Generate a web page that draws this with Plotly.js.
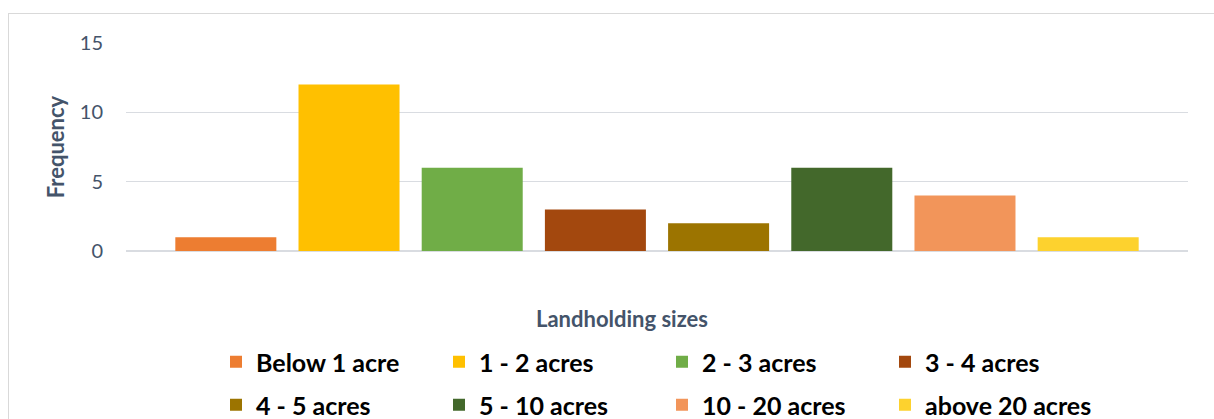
<!DOCTYPE html>
<html>
<head>
<meta charset="utf-8">
<script src="https://cdn.plot.ly/plotly-3.0.1.min.js"></script>
<style>
  html, body { margin: 0; padding: 0; background: #fff; overflow: hidden; }
  #frame { position: absolute; left: 8px; top: 13px; width: 1260px; height: 460px; border: 1px solid #D9D9D9; box-sizing: border-box; }
  #chart { position: absolute; left: 0; top: 0; width: 1214px; height: 419px; }
</style>
</head>
<body>
<div id="frame"></div>
<div id="chart"></div>
<script>
// ---- data ----
const categoryLabel = 'Landholding sizes';
const seriesNames = ['Below 1 acre', '1 - 2 acres', '2 - 3 acres', '3 - 4 acres',
                     '4 - 5 acres', '5 - 10 acres', '10 - 20 acres', 'above 20 acres'];
const frequencies = [1, 12, 6, 3, 2, 6, 4, 1];
const seriesColors = ['#ED7D31', '#FFC000', '#70AD47', '#A3480E',
                      '#9C7400', '#43682B', '#F2955A', '#FDD22E'];
const yTicks = [0, 5, 10, 15];
const axisTitleY = 'Frequency';

const textColor = '#44546A';
const fontFam = 'Lato, "Liberation Sans", sans-serif';

const traces = seriesNames.map((name, i) => ({
  type: 'bar',
  name: name,
  x: [categoryLabel],
  y: [frequencies[i]],
  marker: { color: seriesColors[i], line: { width: 0 } },
  legend: i < 4 ? 'legend' : 'legend2',
  hoverinfo: 'name+y'
}));

const legendCommon = {
  orientation: 'h',
  xanchor: 'left',
  yanchor: 'middle',
  entrywidth: 178,
  entrywidthmode: 'pixels',
  font: { family: fontFam, size: 25, color: '#000000', weight: 'bold' },
  bgcolor: 'rgba(0,0,0,0)',
  traceorder: 'normal'
};

const layout = {
  width: 1214,
  height: 419,
  margin: { l: 126, r: 26, t: 43, b: 168, autoexpand: false },
  paper_bgcolor: 'rgba(0,0,0,0)',
  plot_bgcolor: 'rgba(0,0,0,0)',
  barmode: 'group',
  bargap: 0.072,
  bargroupgap: 0.18,
  showlegend: true,
  font: { family: fontFam, color: textColor },
  xaxis: {
    type: 'category',
    showticklabels: false,
    showgrid: false,
    zeroline: false,
    showline: false,
    ticks: ''
  },
  yaxis: {
    range: [0, 15],
    tickvals: yTicks,
    ticktext: yTicks.map(String),
    showgrid: true,
    gridcolor: '#D9DCE1',
    gridwidth: 1.5,
    zeroline: true,
    zerolinecolor: '#D9DCE1',
    zerolinewidth: 1.5,
    showline: false,
    ticks: '',
    ticklabelstandoff: 22,
    tickfont: { family: fontFam, size: 20, color: textColor },
    title: {
      text: axisTitleY,
      font: { family: fontFam, size: 22, color: textColor, weight: 'bold' },
      standoff: 9
    },
    automargin: false
  },
  legend: Object.assign({}, legendCommon, { x: (216 - 126) / 1062, y: (251 - 362) / 208 }),
  legend2: Object.assign({}, legendCommon, { x: (216 - 126) / 1062, y: (251 - 405) / 208 }),
  annotations: [{
    text: categoryLabel,
    xref: 'paper', yref: 'paper',
    x: (622 - 126) / 1062, y: (251 - 318) / 208,
    xanchor: 'center', yanchor: 'middle',
    showarrow: false,
    font: { family: fontFam, size: 22, color: textColor, weight: 'bold' }
  }]
};

Plotly.newPlot('chart', traces, layout, { displayModeBar: false, staticPlot: true });
</script>
</body>
</html>
